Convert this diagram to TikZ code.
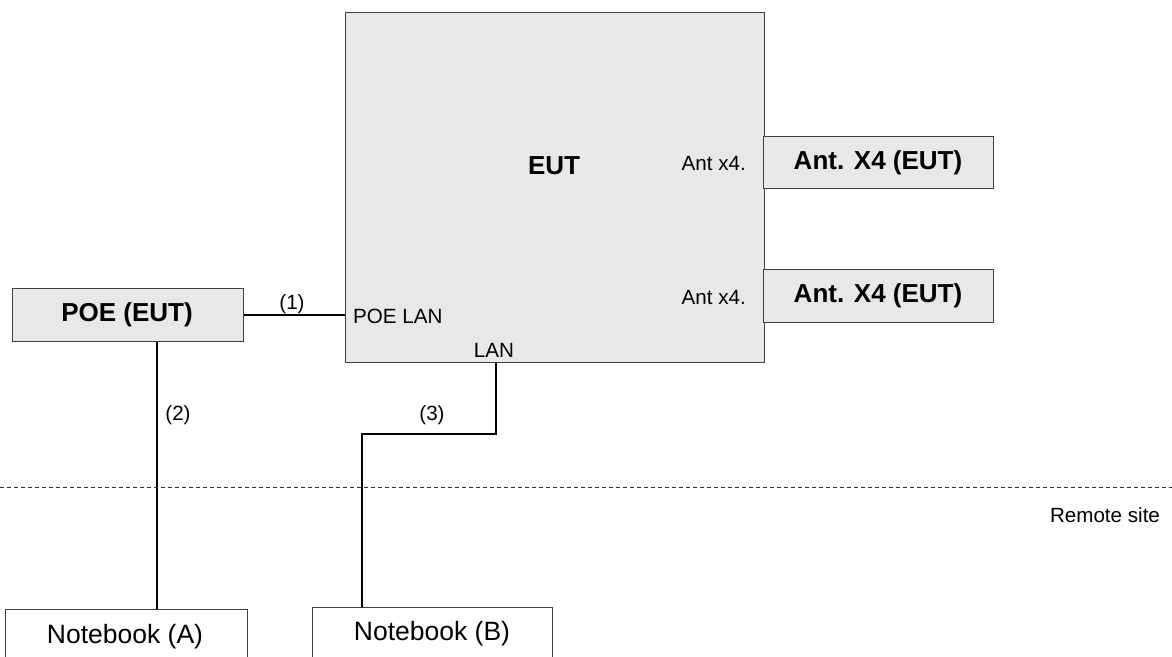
\documentclass[tikz,border=0pt]{standalone}
\usepackage{fontspec}
\setmainfont{Liberation Sans}
\begin{document}
\begin{tikzpicture}[x=1bp,y=-1bp,
  graybox/.style={draw=black!75, line width=1.3bp, fill=black!9, inner sep=0pt},
  whitebox/.style={draw=black!75, line width=1.3bp, fill=white, inner sep=0pt},
  bigbold/.style={font=\fontsize{26bp}{30bp}\selectfont\bfseries, inner sep=0pt},
  bigtext/.style={font=\fontsize{26.5bp}{30bp}\selectfont, inner sep=0pt},
  smalltext/.style={font=\fontsize{20.6bp}{24bp}\selectfont, inner sep=0pt},
  wire/.style={line width=1.4bp, black},
  thickwire/.style={line width=2.6bp, black},
  sitesep/.style={line width=0.9bp, black!80, dash pattern=on 4bp off 3bp}]
\useasboundingbox (0,0) rectangle (1172,657);

% boxes
\node[graybox, minimum width=419bp, minimum height=350bp, anchor=north west] (eut) at (345,12) {};
\node[graybox, minimum width=230bp, minimum height=52bp, anchor=north west] (ant1) at (763,136) {};
\node[graybox, minimum width=230bp, minimum height=53bp, anchor=north west] (ant2) at (763,269) {};
\node[graybox, minimum width=231bp, minimum height=53bp, anchor=north west] (poe) at (12,288) {};
\node[whitebox, minimum width=242bp, minimum height=70bp, anchor=north west] (nbA) at (5,609) {};
\node[whitebox, minimum width=240bp, minimum height=70bp, anchor=north west] (nbB) at (312,607) {};
\useasboundingbox (0,0) rectangle (1172,657);

% texts
\node[bigbold] (teut) at (554,166) {EUT};
\node[bigbold] (tant1) at (878,163) {Ant. X4 (EUT)};
\node[bigbold] (tant2) at (878,296) {Ant. X4 (EUT)};
\node[bigbold] (tpoe) at (127,315) {POE (EUT)};
\node[bigtext] (tnbA) at (125,637) {Notebook (A)};
\node[bigtext] (tnbB) at (432,634) {Notebook (B)};
\node[smalltext, anchor=east] (tantx1) at (746,163) {Ant x4.};
\node[smalltext, anchor=east] (tantx2) at (746,297) {Ant x4.};
\node[smalltext, anchor=west] (tpoelan) at (353,316) {POE LAN};
\node[smalltext] (tlan) at (494,350) {LAN};
\node[smalltext] (l1) at (292,304) {(1)};
\node[smalltext] (l2) at (178,415) {(2)};
\node[smalltext] (l3) at (432,415) {(3)};
\node[smalltext] (tremote) at (1105,515) {Remote site};

% connectors
\coordinate (c2) at (157,0);
\coordinate (c3) at (496,434);
\coordinate (c3b) at (362,0);
\draw[wire] (poe.east) -- (poe.east -| eut.west);
\draw[thickwire] (poe.south -| c2) -- (nbA.north -| c2);
\draw[wire] (eut.south -| c3) -- (c3) -| (nbB.north -| c3b);

% site separator
\coordinate (sepL) at (0,487);
\coordinate (sepR) at (1172,487);
\draw[sitesep] (sepL) -- (sepR);
\end{tikzpicture}
\end{document}
